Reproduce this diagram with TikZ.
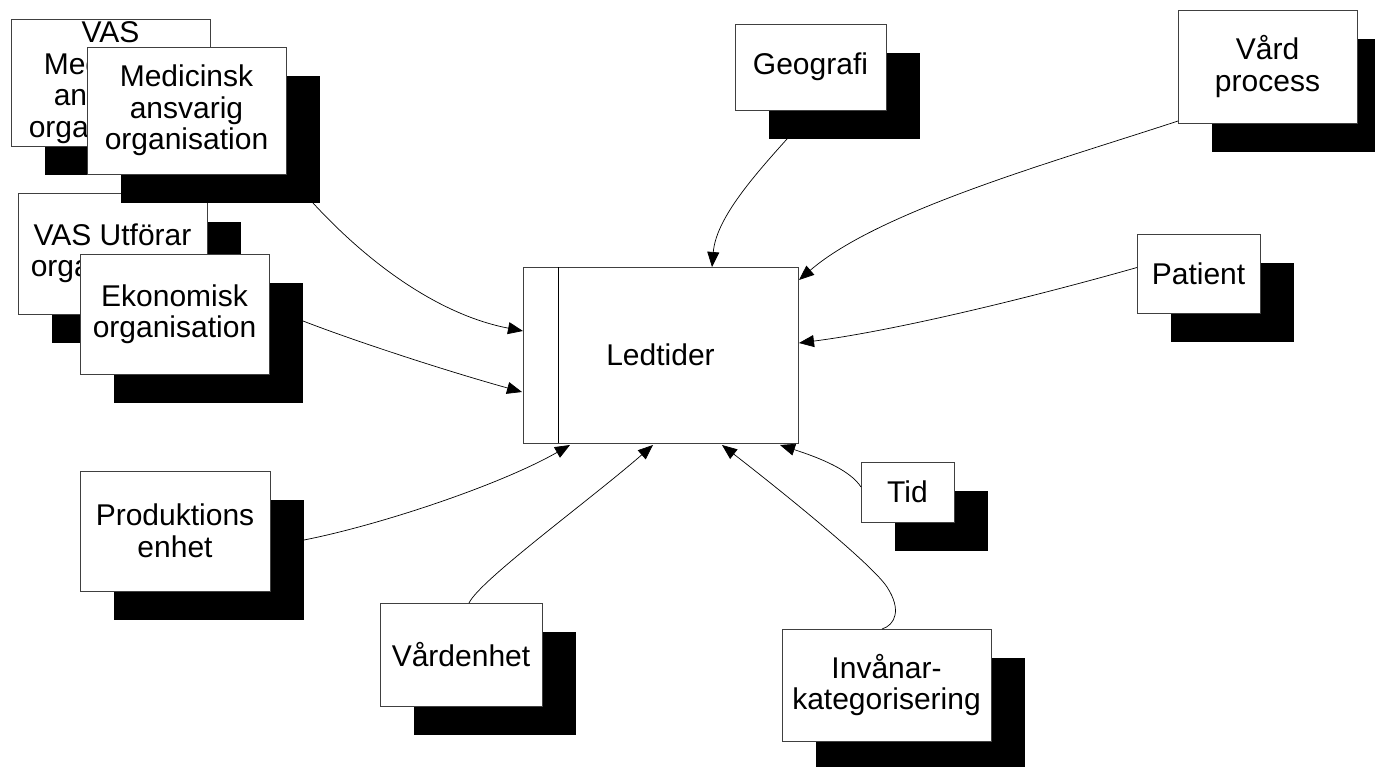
\documentclass[tikz,border=0pt]{standalone}
\usepackage{fontspec}
\setmainfont{Liberation Sans}
\usetikzlibrary{arrows.meta,calc}
\newcommand\mkbox[6]{%
  \node[shadowbox, minimum width=#4pt, minimum height=#5pt] (#1sh) at (#2+34,#3+29) {};
  \node[mainbox, minimum width=#4pt, minimum height=#5pt] (#1) at (#2,#3) {#6};
}
\begin{document}
\begin{tikzpicture}[x=1pt,y=-1pt,
  shadowbox/.style={fill=black, draw=none, inner sep=0pt, outer sep=0pt},
  mainbox/.style={fill=white, draw=black!75, line width=0.8pt, inner sep=0pt, outer sep=0pt,
    align=center, font=\fontsize{30}{31.5}\selectfont},
  conn/.style={draw=black, line width=0.7pt, -{Triangle[length=15pt,width=12pt]}}]
\useasboundingbox (0,0) rectangle (1375,767);
% left cluster
\mkbox{vasmed}{110.5}{82.5}{199}{127}{VAS\\Medicinsk\\ansvarig\\organisation}
\mkbox{vasutf}{112.5}{253.5}{189}{121}{VAS Utförar\\organisation}
\mkbox{mao}{186.5}{110.5}{199}{127}{Medicinsk\\ansvarig\\organisation}
\mkbox{ekon}{174.5}{314}{189}{120}{Ekonomisk\\organisation}
\mkbox{prod}{175}{531}{190}{120}{Produktions\\enhet}
\mkbox{vard}{461}{654.5}{162}{103}{Vårdenhet}
\mkbox{inv}{886.5}{685}{209}{112}{Invånar-\\kategorisering}
\mkbox{tid}{907.5}{492}{93}{60}{Tid}
\mkbox{patient}{1198.5}{273.5}{123}{79}{Patient}
\mkbox{vproc}{1267.5}{66.5}{179}{113}{Vård\\process}
\mkbox{geo}{810.5}{67}{151}{86}{Geografi}
% central
\node[mainbox, minimum width=275pt, minimum height=176pt] (led) at (660.5,355) {Ledtider};
\draw[black, line width=0.8pt] ($(led.north west)+(35,0)$) -- ($(led.south west)+(35,0)$);
% connectors
\draw[conn] ($(maosh.south east)+(-7,0)$) .. controls (370,265) and (440,315) .. ($(led.west)+(0,-24)$);
\draw[conn] ($(ekonsh.east)+(0,-22)$) .. controls (360,343) and (450,372) .. ($(led.west)+(-1,37)$);
\draw[conn] ($(prodsh.east)+(0,-20)$) .. controls (380,525) and (500,485) .. ($(led.south west)+(47,2)$);
\draw[conn] ($(vard.north)+(8,0)$) .. controls (480,580) and (590,500) .. ($(led.south)+(-7.5,2)$);
\draw[conn] ($(inv.north)+(-4.5,0)$) .. controls (895,625) and (902,610) .. (887,587)
   .. controls (872,564) and (780,490) .. ($(led.south)+(61.5,2)$);
\draw[conn] ($(tid.west)+(0,-5)$) .. controls (850,470) and (820,458) .. ($(led.south east)+(-18,2)$);
\draw[conn] ($(patient.west)+(0,-6)$) .. controls (1040,295) and (900,330) .. ($(led.east)+(1,-12)$);
\draw[conn] ($(vproc.south west)+(0,-2)$) .. controls (1060,160) and (880,210) .. ($(led.north east)+(1,13)$);
\draw[conn] ($(geosh.south west)+(18,0)$) .. controls (750,180) and (716,220) .. ($(led.north)+(51.5,0)$);
\end{tikzpicture}
\end{document}
